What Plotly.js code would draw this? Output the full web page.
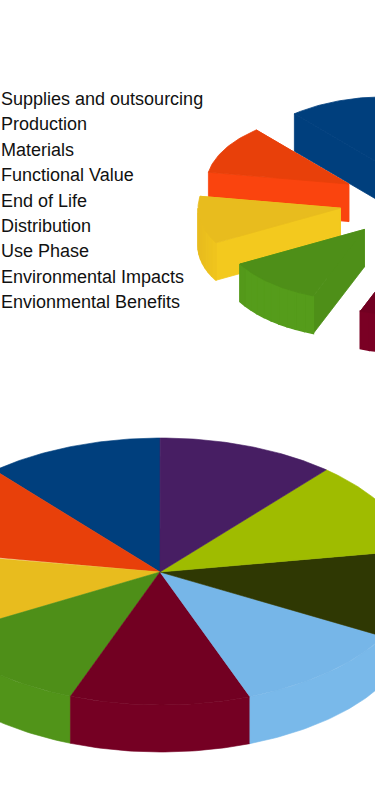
<!DOCTYPE html>
<html>
<head>
<meta charset="utf-8">
<script src="https://cdn.plot.ly/plotly-3.0.1.min.js"></script>
<style>html,body{margin:0;padding:0;background:#fff}#chart{width:375px;height:786px}</style>
</head>
<body>
<div id="chart"></div>
<script>
// Data (counter-clockwise from 12 o'clock)
const categories = ["Supplies and outsourcing","Production","Materials","Functional Value","End of Life","Distribution","Use Phase","Environmental Impacts","Envionmental Benefits"];
const sliceValues = [40.5, 39.9, 38.7, 39.9, 41.2, 40.4, 38.4, 40.4, 40.6];
const explodeValues = [0.51, 0.51, 0.51, 0.51, 0.6, 0.51, 0.51, 0.51, 0.51];

// Styles
const topColors  = ["#003F7D","#E8400A","#E8BC1E","#4E8F18","#720022","#76B6E8","#2F3803","#9FBC00","#471E63"];
const wallColors = ["#003F7D","#FA440E","#F3C91E","#559C1B","#7A0024","#7DBEEE","#2F3803","#9FBC00","#471E63"];

// Views of the two pies (pixel-scale axes)
const exploded = {cx:412, cy:202, a:142.4, b:71.2, h:37.5, start:360};
const whole    = {cx:161, cy:571.5, a:255, b:133.5, h:47, start:359.8, apexX:160, apexY:572, wallMix:0.6};

const total = sliceValues.reduce((s,v)=>s+v,0);
const rad = d => d*Math.PI/180;
const hex = c => [1,3,5].map(i=>parseInt(c.substr(i,2),16));
const mix = (c1,c2,k) => { const a=hex(c1), b=hex(c2); return "rgb("+a.map((v,i)=>Math.round(v+(b[i]-v)*k)).join(",")+")"; };

const traces = [];
function poly(xs, ys, color, name, lw){
  traces.push({type:"scatter", mode:"lines", x:xs, y:ys, fill:"toself", fillcolor:color,
    line:{color:color, width:lw===undefined?0.6:lw}, hoverinfo:"skip", showlegend:false, name:name});
}
function sliceAngles(view){
  let t = view.start;
  return sliceValues.map(v=>{ const t0=t; t -= v/total*360; return [t0,t]; }); // t0 > t1
}
function rimPoint(v, ox, oy, t){ return [ox + v.a*Math.sin(rad(t)), oy - v.b*Math.cos(rad(t))]; }

// Exploded pie: affine view, each slice moved along its bisector
const upAngles = sliceAngles(exploded);
const upOrder = categories.map((_,i)=>i).sort((p,q)=>{
  const bp=(upAngles[p][0]+upAngles[p][1])/2, bq=(upAngles[q][0]+upAngles[q][1])/2;
  return Math.cos(rad(bq))-Math.cos(rad(bp));
});
upOrder.forEach(i=>{
  const [t0,t1] = upAngles[i], mid=(t0+t1)/2, e=explodeValues[i], v=exploded;
  const ax = v.cx + e*v.a*Math.sin(rad(mid)), ay = v.cy - e*v.b*Math.cos(rad(mid));
  // radial side walls
  [t0,t1].forEach(t=>{
    const p = rimPoint(v,ax,ay,t);
    const c = t<=205 ? topColors[i] : wallColors[i];
    poly([ax,p[0],p[0],ax,ax],[ay,p[1],p[1]+v.h,ay+v.h,ay],c,categories[i],0.8);
  });
  // outer arc wall in shaded strips
  const lo=Math.max(t1,90), hi=Math.min(t0,270);
  if(hi>lo){
    const n=Math.ceil((hi-lo)/4);
    for(let k=0;k<n;k++){
      const s0=lo+(hi-lo)*k/n, s1=lo+(hi-lo)*(k+1)/n;
      const p0=rimPoint(v,ax,ay,s0), p1=rimPoint(v,ax,ay,s1);
      const shade=Math.max(0,Math.min(1,(s0-232)/25));
      poly([p0[0],p1[0],p1[0],p0[0],p0[0]],[p0[1],p1[1],p1[1]+v.h,p0[1]+v.h,p0[1]],
           mix(wallColors[i],topColors[i],shade),categories[i],1.6);
    }
  }
  // top face
  const xs=[ax], ys=[ay];
  for(let k=0;k<=40;k++){ const p=rimPoint(v,ax,ay,t0+(t1-t0)*k/40); xs.push(p[0]); ys.push(p[1]); }
  xs.push(ax); ys.push(ay);
  poly(xs,ys,topColors[i],categories[i],0.8);
});

// Whole pie: wall then top
const loAngles = sliceAngles(whole);
loAngles.forEach(([t0,t1],i)=>{
  const v=whole, lo=Math.max(t1,90), hi=Math.min(t0,270);
  if(hi>lo){
    const xs=[], ys=[];
    for(let k=0;k<=40;k++){ const p=rimPoint(v,v.cx,v.cy,lo+(hi-lo)*k/40); xs.push(p[0]); ys.push(p[1]); }
    for(let k=40;k>=0;k--){ const p=rimPoint(v,v.cx,v.cy,lo+(hi-lo)*k/40); xs.push(p[0]); ys.push(p[1]+v.h); }
    xs.push(xs[0]); ys.push(ys[0]);
    poly(xs,ys,mix(wallColors[i],topColors[i],v.wallMix),categories[i]);
  }
});
loAngles.forEach(([t0,t1],i)=>{
  const v=whole, xs=[v.apexX], ys=[v.apexY];
  for(let k=0;k<=60;k++){ const p=rimPoint(v,v.cx,v.cy,t0+(t1-t0)*k/60); xs.push(p[0]); ys.push(p[1]); }
  xs.push(v.apexX); ys.push(v.apexY);
  poly(xs,ys,topColors[i],categories[i]);
});

// Legend text, no swatches
const annotations = categories.map((c,i)=>({
  text:c, xref:"x", yref:"y", x:1, y:99+25.4*i, xanchor:"left", yanchor:"middle", borderpad:0, borderwidth:0,
  showarrow:false, align:"left", font:{family:"Liberation Sans, Arial, sans-serif", size:18, color:"#111111"}
}));

const axis = {visible:false, fixedrange:true, showgrid:false, zeroline:false};
Plotly.newPlot("chart", traces, {
  width:375, height:786, margin:{l:0,r:0,t:0,b:0},
  paper_bgcolor:"#ffffff", plot_bgcolor:"#ffffff", showlegend:false,
  xaxis:Object.assign({range:[0,375]},axis),
  yaxis:Object.assign({range:[786,0]},axis),
  annotations:annotations
}, {displayModeBar:false, staticPlot:true});
</script>
</body>
</html>
